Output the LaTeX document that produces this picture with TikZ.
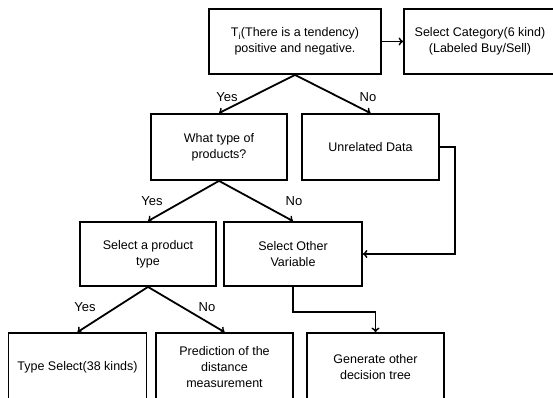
\documentclass[tikz,border=0pt]{standalone}
\usepackage{fontspec}
\setmainfont{Liberation Sans}
\begin{document}
\begin{tikzpicture}[x=1pt,y=-1pt,
  box/.style={draw,line width=1.8pt,rectangle,align=center,inner sep=2pt,font=\fontsize{12.5}{15.7}\selectfont},
  lbl/.style={font=\fontsize{13}{15}\selectfont,inner sep=0pt},
  arr/.style={->,line width=1.8pt,>=to}]
\useasboundingbox (0,0) rectangle (553,398);
\clip (0,0) rectangle (553,398);
\fill[white] (0,0) rectangle (553,398);
\node[box,minimum width=172pt,minimum height=65pt] (t) at (295,41.5) {T\textsubscript{i}(There is a tendency)\\positive and negative.};
\node[box,minimum width=152pt,minimum height=65pt] (c) at (480,41.5) {Select Category(6 kind)\\(Labeled Buy/Sell)};
\node[box,minimum width=136pt,minimum height=66pt] (w) at (219,147) {What type of\\products?};
\node[box,minimum width=137pt,minimum height=66pt] (u) at (370.5,147) {Unrelated Data};
\node[box,minimum width=136pt,minimum height=64pt] (p) at (148,254) {Select a product\\type};
\node[box,minimum width=138pt,minimum height=64pt] (o) at (293,254) {Select Other\\Variable};
\node[box,minimum width=138pt,minimum height=68pt] (ts) at (77.5,367) {Type Select(38 kinds)};
\node[box,minimum width=137pt,minimum height=68pt] (pd) at (224.5,367) {Prediction of the\\distance\\measurement};
\node[box,minimum width=137pt,minimum height=68pt] (g) at (375.5,367) {Generate other\\decision tree};
\draw[arr] (t) -- (c);
\draw[arr] (t.south) -- (w.north);
\draw[arr] (t.south) -- (u.north);
\draw[arr] (w.south) -- (p.north);
\draw[arr] (w.south) -- (o.north);
\draw[arr] (p.south) -- (ts.north);
\draw[arr] (p.south) -- (pd.north);
\draw[arr] (u.east) -- ++(15,0) |- (o.east);
\draw[arr] (o.south) -- ++(0,25) -| (g.north);
\node[lbl] (y1) at (227,97) {Yes};
\node[lbl] (n1) at (368,97) {No};
\node[lbl] (y2) at (152,201) {Yes};
\node[lbl] (n2) at (294,201) {No};
\node[lbl] (y3) at (85,307) {Yes};
\node[lbl] (n3) at (207,307) {No};
\end{tikzpicture}
\end{document}
